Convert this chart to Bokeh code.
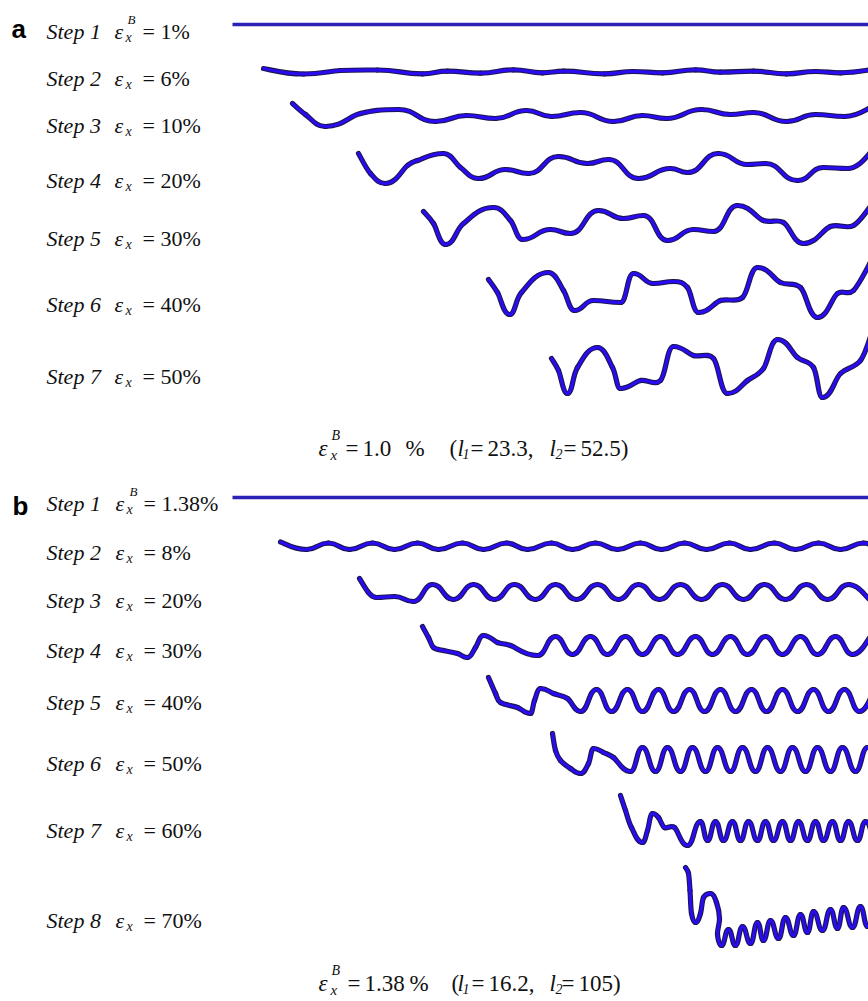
from bokeh.plotting import figure
from bokeh.models import Range1d, ColumnDataSource
from bokeh.core.properties import value
from bokeh.embed import file_html
from bokeh.resources import INLINE

W, H = 868, 1001

# ---------------- data (pixel units) ----------------
# panel a, step 1 (flat)
a1_x = [232, 872]
a1_y = [24, 24]
# panel a wavy profiles: way-points (ends, extrema, shoulders)
a2_x = [263, 303, 340, 377, 422, 447, 480, 513, 542, 563, 604, 633, 662, 695, 720, 753, 786, 815, 840, 872]
a2_y = [68, 73.5, 70, 69.5, 73.3, 70.7, 72.7, 69.3, 72.3, 70.7, 73.3, 71, 72.3, 69.3, 71.7, 70.7, 73.3, 71, 72.3, 69]
a3_x = [292, 305, 325, 360, 398, 435, 466, 495, 526, 551, 580, 613, 642, 666, 701, 730, 753, 786, 815, 844, 872]
a3_y = [103, 114, 126, 113, 109, 121, 115, 118, 110, 116, 112, 121, 115, 118, 109, 114, 112, 121, 114, 116, 106]
a4_x = [358, 370, 385, 407, 417, 443, 460, 478, 505, 528, 558, 587, 608, 638, 670, 687, 718, 747, 765, 797, 823, 847, 872]
a4_y = [153, 173, 183, 165, 160, 153, 167, 178, 169, 173, 156, 163, 159, 178, 168, 172, 153, 164, 163, 180, 167, 168, 150]
a5_x = [423, 433, 445, 463, 493, 510, 522, 550, 570, 598, 623, 643, 667, 693, 713, 737, 763, 783, 803, 830, 853, 872]
a5_y = [211, 223, 244, 223, 207, 220, 239, 229, 233, 210, 218, 215, 240, 229, 231, 205, 220, 222, 243, 226, 225, 203]
a6_x = [488, 497, 509, 521, 548, 563, 574, 593, 620, 633, 653, 673, 687, 698, 720, 742, 757, 780, 800, 817, 837, 853, 872]
a6_y = [279, 292, 314, 292, 272, 290, 310, 300, 302, 273, 283, 281, 287, 312, 300, 297, 267, 282, 287, 317, 293, 290, 258]
a7_x = [551, 558, 567, 577, 597, 612, 620, 640, 660, 673, 693, 713, 727, 747, 763, 777, 797, 813, 822, 840, 860, 872]
a7_y = [358, 370, 393, 367, 347, 367, 388, 380, 380, 346, 355, 358, 393, 380, 368, 339, 357, 367, 397, 373, 360, 330]

# panel b, step 1 (flat)
b1_x = [232, 872]
b1_y = [497, 497]
# panel b wavy profiles
b2_x = [280, 306, 328, 349, 372, 394, 417, 438, 462, 483, 506, 527, 551, 572, 595, 617, 640, 661, 684, 706, 729, 750, 774, 795, 818, 840, 863, 872]
b2_y = [541.5, 549, 542.5, 549, 542.5, 549, 542.5, 549, 542.5, 549, 542.5, 549, 542.5, 549, 542.5, 549, 542.5, 549, 542.5, 549, 542.5, 549, 542.5, 549, 542.5, 549, 542.5, 545]
b3_x = [359, 368, 376, 394, 413, 432, 453, 473, 494, 514, 535, 555, 576, 597, 618, 638, 659, 680, 701, 722, 743, 764, 785, 806, 827, 848, 869]
b3_y = [578, 592, 597, 596, 601, 584, 599, 584, 599, 584, 599, 584, 599, 584, 599, 584, 599, 584, 599, 584, 599, 584, 599, 584, 599, 584, 599]
b4_x = [422, 428, 433, 443, 457, 467, 475, 483, 497, 510, 537, 555, 572, 590, 607, 625, 642, 660, 677, 695, 712, 730, 747, 765, 782, 800, 817, 835, 852, 870]
b4_y = [626, 637, 647, 650, 653, 657, 647, 635, 642, 645, 655, 636, 654, 636, 654, 636, 654, 636, 654, 636, 654, 636, 654, 636, 654, 636, 654, 636, 654, 636]
b5_x = [488, 495, 500, 517, 530, 534, 540, 553, 567, 580, 596, 611, 627, 642, 658, 673, 689, 704, 720, 735, 751, 766, 782, 797, 813, 828, 844, 859, 874]
b5_y = [677, 693, 702, 707, 713, 700, 688, 693, 698, 711, 689, 711, 689, 711, 689, 711, 689, 711, 689, 711, 689, 711, 689, 711, 689, 711, 689, 711, 689]
b6_x = [552, 555, 560, 570, 580, 588, 593, 603, 613, 630, 642, 655, 667, 680, 692, 705, 717, 730, 742, 755, 767, 780, 792, 805, 817, 830, 842, 855, 867, 880]
b6_y = [733, 750, 760, 768, 773, 763, 748, 752, 757, 771, 747, 771, 747, 771, 747, 771, 747, 771, 747, 771, 747, 771, 747, 771, 747, 771, 747, 771, 747, 771]
b7_x = [620, 625, 631, 642, 647, 652, 658, 664, 674, 687, 700, 707, 715, 723, 732, 740, 748, 757, 765, 773, 782, 790, 798, 807, 815, 823, 832, 840, 848, 857, 865, 873]
b7_y = [795, 810, 827, 842, 830, 813, 817, 827, 827, 845, 821, 840, 821, 840, 821, 840, 821, 840, 821, 840, 821, 840, 821, 840, 821, 840, 821, 840, 821, 840, 821, 840]
b8_x = [685, 688, 689.5, 691, 695, 700, 703, 710, 716, 719, 717, 721, 728, 735, 742, 750, 757, 763, 770, 778, 785, 793, 800, 807, 813, 822, 830, 837, 843, 852, 860, 867, 874]
b8_y = [867, 873, 890, 913, 922, 913, 897, 893, 902, 918, 934, 945, 929, 945, 926, 943, 922, 940, 920, 938, 917, 935, 914, 932, 911, 930, 909, 928, 907, 927, 906, 926, 905]

# labels
steps_a = ["Step 1", "Step 2", "Step 3", "Step 4", "Step 5", "Step 6", "Step 7"]
vals_a = ["= 1%", "= 6%", "= 10%", "= 20%", "= 30%", "= 40%", "= 50%"]
base_a = [31, 78, 125, 180, 238, 304, 376]
steps_b = ["Step 1", "Step 2", "Step 3", "Step 4", "Step 5", "Step 6", "Step 7", "Step 8"]
vals_b = ["= 1.38%", "= 8%", "= 20%", "= 30%", "= 40%", "= 50%", "= 60%", "= 70%"]
base_b = [503, 552, 600, 650, 702, 763, 830, 920]
panel_letters = ["a", "b"]
cap_a_num = ["1.0", "%", "(", "23.3,", "52.5)"]
cap_b_num = ["1.38", "%", "(", "16.2,", "105)"]
cap_base = [448, 983]

# ---------------- figure ----------------
p = figure(width=W, height=H, output_backend="svg", toolbar_location=None,
           x_range=Range1d(0, W), y_range=Range1d(H, 0), min_border=0)
p.axis.visible = False
p.grid.visible = False
p.outline_line_color = None
p.background_fill_color = "white"
p.border_fill_color = "white"

# flat step-1 lines
for xs, ys in [(a1_x, a1_y), (b1_x, b1_y)]:
    p.line(xs, ys, line_color="#2b22b8", line_width=3.3)

curves = [(a2_x, a2_y), (a3_x, a3_y), (a4_x, a4_y), (a5_x, a5_y), (a6_x, a6_y), (a7_x, a7_y),
          (b2_x, b2_y), (b3_x, b3_y), (b4_x, b4_y), (b5_x, b5_y), (b6_x, b6_y), (b7_x, b7_y), (b8_x, b8_y)]

K_EXT = 0.5  # control-arm length at extrema, as a share of the segment's x-extent


def is_ext(ys, i):
    return 0 < i < len(ys) - 1 and (ys[i] - ys[i - 1]) * (ys[i + 1] - ys[i]) < 0


seg = dict(x0=[], y0=[], x1=[], y1=[], cx0=[], cy0=[], cx1=[], cy1=[])
for xs, ys in curves:
    n = len(xs)
    for i in range(n - 1):
        j = i + 1
        dx = xs[j] - xs[i]
        if is_ext(ys, i):
            c0 = (xs[i] + K_EXT * dx, ys[i])
        else:
            i0 = max(i - 1, 0)
            c0 = (xs[i] + (xs[j] - xs[i0]) / 6.0, ys[i] + (ys[j] - ys[i0]) / 6.0)
        if is_ext(ys, j):
            c1 = (xs[j] - K_EXT * dx, ys[j])
        else:
            j3 = min(j + 1, n - 1)
            c1 = (xs[j] - (xs[j3] - xs[i]) / 6.0, ys[j] - (ys[j3] - ys[i]) / 6.0)
        seg["x0"].append(xs[i]); seg["y0"].append(ys[i])
        seg["x1"].append(xs[j]); seg["y1"].append(ys[j])
        seg["cx0"].append(c0[0]); seg["cy0"].append(c0[1])
        seg["cx1"].append(c1[0]); seg["cy1"].append(c1[1])
src = ColumnDataSource(seg)
p.bezier(x0="x0", y0="y0", x1="x1", y1="y1", cx0="cx0", cy0="cy0", cx1="cx1", cy1="cy1",
         source=src, line_color="#1c1650", line_width=5.2, line_cap="round", line_join="round")
p.bezier(x0="x0", y0="y0", x1="x1", y1="y1", cx0="cx0", cy0="cy0", cx1="cx1", cy1="cy1",
         source=src, line_color="#2a0cf2", line_width=3.0, line_cap="round", line_join="round")

SERIF = value("Liberation Serif")
SANS = value("Liberation Sans")


def txt(xs, ys, texts, size, style="normal", font=SERIF, color="#111111"):
    s = ColumnDataSource(dict(x=xs, y=ys, t=texts))
    p.text(x="x", y="y", text="t", source=s, text_font=font, text_font_size=size,
           text_font_style=style, text_baseline="alphabetic", text_align="left",
           text_color=color)


# panel letters
txt([11, 12], [28, 505], panel_letters, "26px", "bold", SANS, "#000000")

# step labels
txt([46] * len(base_a), base_a, steps_a, "22px", "italic")
txt([46] * len(base_b), base_b, steps_b, "22px", "italic")
txt([114] * len(base_a), base_a, ["\u03b5"] * len(base_a), "22px", "italic")
txt([115] * len(base_b), base_b, ["\u03b5"] * len(base_b), "22px", "italic")
txt([125] * len(base_a), [b + 6 for b in base_a], ["x"] * len(base_a), "14px", "italic")
txt([126] * len(base_b), [b + 6 for b in base_b], ["x"] * len(base_b), "14px", "italic")
txt([127, 129], [base_a[0] - 12, base_b[0] - 12], ["B", "B"], "13px", "italic")
txt([142] * len(base_a), base_a, vals_a, "22px")
txt([143] * len(base_b), base_b, vals_b, "22px")

# captions
cap_num_x = [[362, 405, 449, 487, 580], [364, 409, 451, 488, 578]]
cap_eq_x = [[345, 470, 563], [347, 471, 561]]
for k, (nums, yb) in enumerate(zip([cap_a_num, cap_b_num], cap_base)):
    txt([318], [yb], ["\u03b5"], "23px", "italic")
    txt([331], [yb - 13], ["B"], "14px", "italic")
    txt([330], [yb + 6], ["x"], "15px", "italic")
    txt(cap_eq_x[k], [yb] * 3, ["="] * 3, "23px")
    txt(cap_num_x[k], [yb] * 5, nums, "23px")
    txt([457, 549], [yb, yb], ["l", "l"], "23px", "italic")
    txt([462, 555], [yb + 5, yb + 5], ["1", "2"], "14px", "italic")

open("out.html", "w").write(file_html(p, INLINE))
